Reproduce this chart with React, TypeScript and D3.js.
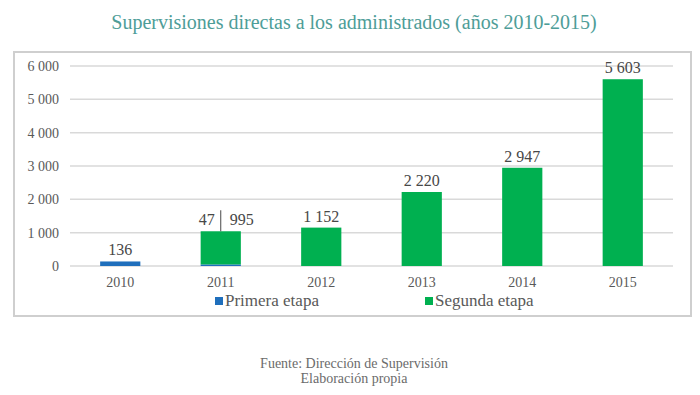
import React from 'react';
import * as d3 from 'd3';

// datos del gráfico
const years = ['2010', '2011', '2012', '2013', '2014', '2015'];
const primeraEtapa = [136, 47, 0, 0, 0, 0];
const segundaEtapa = [0, 995, 1152, 2220, 2947, 5603];
const yTicks = [0, 1000, 2000, 3000, 4000, 5000, 6000];
const seriesNames = ['Primera etapa', 'Segunda etapa'];

const W = 700;
const H = 395;
const FONT = '"Liberation Serif", "DejaVu Serif", serif';
const GREY = '#595959';
const LABEL = '#474747';
const colors = ['#1f6fbc', '#00b050'];

const fmt = d3.formatLocale({ decimal: ',', thousands: ' ', grouping: [3], currency: ['', ''] }).format(',d');

export default function App() {
  const rows = years.map((y, i) => ({ year: y, primera: primeraEtapa[i], segunda: segundaEtapa[i] }));
  const stacked = d3.stack<any>().keys(['primera', 'segunda'])(rows);

  const x = d3.scaleBand().domain(years).range([70, 673]).paddingInner(0.6).paddingOuter(0.3);
  const y = d3.scaleLinear().domain([0, 6000]).range([266, 66]);
  const bw = x.bandwidth();

  return (
    <div style={{ position: 'absolute', left: 0, top: 0 }}>
      <svg width={W} height={H} style={{ display: 'block', background: '#fff' }}>
        {/* título */}
        <text x={354} y={29} textAnchor="middle" fontFamily={FONT} fontSize={20} fill="#4e9d98">
          Supervisiones directas a los administrados (años 2010-2015)
        </text>

        {/* marco */}
        <rect x={14} y={52} width={677} height={264} fill="none" stroke="#cfcfcf" strokeWidth={2} />

        {/* cuadrícula y eje Y */}
        {yTicks.map(t => (
          <g key={t}>
            <line x1={70} x2={673} y1={y(t)} y2={y(t)} stroke="#d9d9d9" strokeWidth={1.5} />
            <text x={59} y={y(t)} dy="0.35em" textAnchor="end" fontFamily={FONT} fontSize={14} fill={GREY}>
              {fmt(t)}
            </text>
          </g>
        ))}

        {/* barras apiladas */}
        {stacked.map((s, si) => (
          <g key={s.key} fill={colors[si]}>
            {s.map((d, i) => (
              d[1] - d[0] > 0 ? (
                <rect key={i} x={x(years[i])} y={y(d[1])} width={bw} height={y(d[0]) - y(d[1])} />
              ) : null
            ))}
          </g>
        ))}

        {/* etiquetas de datos */}
        {rows.map((r, i) => {
          const cx = (x(r.year) as number) + bw / 2;
          const top = y(r.primera + r.segunda);
          if (r.primera > 0 && r.segunda > 0) {
            return (
              <g key={r.year} fontFamily={FONT} fontSize={16} fill={LABEL}>
                <line x1={cx} x2={cx} y1={top} y2={top - 21} stroke={LABEL} strokeWidth={1} />
                <text x={cx - 6} y={top - 6} textAnchor="end">{fmt(r.primera)}</text>
                <text x={cx + 9} y={top - 6} textAnchor="start">{fmt(r.segunda)}</text>
              </g>
            );
          }
          return (
            <text key={r.year} x={cx} y={top - 6} textAnchor="middle" fontFamily={FONT} fontSize={16} fill={LABEL}>
              {fmt(r.primera + r.segunda)}
            </text>
          );
        })}

        {/* eje X */}
        {years.map(yr => (
          <text key={yr} x={(x(yr) as number) + bw / 2} y={287} textAnchor="middle" fontFamily={FONT} fontSize={14} fill={GREY}>
            {yr}
          </text>
        ))}

        {/* leyenda */}
        {seriesNames.map((n, i) => {
          const lx = i === 0 ? 215 : 425;
          return (
            <g key={n}>
              <rect x={lx} y={297} width={8} height={8} fill={colors[i]} />
              <text x={lx + 10} y={306} fontFamily={FONT} fontSize={17} fill={GREY}>{n}</text>
            </g>
          );
        })}

        {/* fuente */}
        <text x={354} y={368} textAnchor="middle" fontFamily={FONT} fontSize={14} fill="#6b6b6b">
          Fuente: Dirección de Supervisión
        </text>
        <text x={354} y={383} textAnchor="middle" fontFamily={FONT} fontSize={14} fill="#6b6b6b">
          Elaboración propia
        </text>
      </svg>
    </div>
  );
}
